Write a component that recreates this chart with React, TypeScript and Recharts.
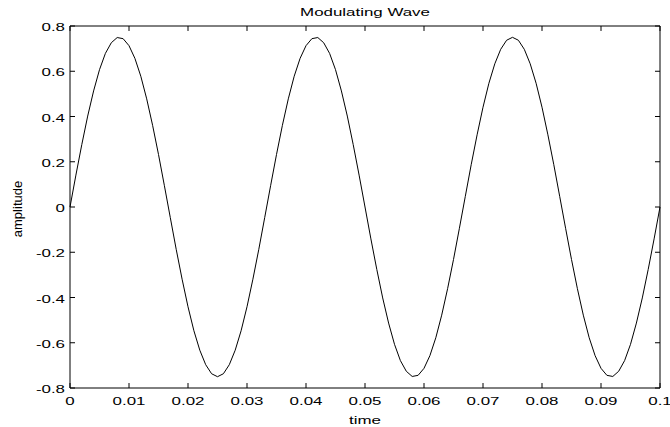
import { LineChart, Line, XAxis, YAxis, ReferenceLine } from 'recharts'

const SAMPLE_STEP = 0.001
const amplitude = [
  0, 0.141, 0.276, 0.402, 0.513, 0.607, 0.679, 0.726, 0.749, 0.744,
  0.713, 0.657, 0.578, 0.478, 0.361, 0.232, 0.094, -0.047, -0.187, -0.319,
  -0.441, -0.547, -0.633, -0.697, -0.737, -0.75, -0.737, -0.697, -0.633, -0.547,
  -0.441, -0.319, -0.187, -0.047, 0.094, 0.232, 0.361, 0.478, 0.578, 0.657,
  0.713, 0.744, 0.749, 0.726, 0.679, 0.607, 0.513, 0.402, 0.276, 0.141,
  0, -0.141, -0.276, -0.402, -0.513, -0.607, -0.679, -0.726, -0.749, -0.744,
  -0.713, -0.657, -0.578, -0.478, -0.361, -0.232, -0.094, 0.047, 0.187, 0.319,
  0.441, 0.547, 0.633, 0.697, 0.737, 0.75, 0.737, 0.697, 0.633, 0.547,
  0.441, 0.319, 0.187, 0.047, -0.094, -0.232, -0.361, -0.478, -0.578, -0.657,
  -0.713, -0.744, -0.749, -0.726, -0.679, -0.607, -0.513, -0.402, -0.276, -0.141,
  0,
]

const xTicks = [0, 0.01, 0.02, 0.03, 0.04, 0.05, 0.06, 0.07, 0.08, 0.09, 0.1]
const xTickLabels = ['0', '0.01', '0.02', '0.03', '0.04', '0.05', '0.06', '0.07', '0.08', '0.09', '0.1']
const yTicks = [-0.8, -0.6, -0.4, -0.2, 0, 0.2, 0.4, 0.6, 0.8]
const yTickLabels = ['-0.8', '-0.6', '-0.4', '-0.2', '0', '0.2', '0.4', '0.6', '0.8']

const data = amplitude.map((a, i) => ({ t: i * SAMPLE_STEP, a }))

const X_MIN = 0
const X_MAX = 0.1
const Y_MIN = -0.8
const Y_MAX = 0.8
// inward tick marks, ~5px long, in data units
const X_TICK_LEN = 0.022
const Y_TICK_LEN = 0.00085

const FONT = '"Liberation Sans", Arial, Helvetica, sans-serif'
const FS = 11.5
const SX = 1.47 // the reference text is drawn wide
const frame = { stroke: '#000', strokeWidth: 1 }

function BottomTick(props: any) {
  const { x, y, index } = props
  return (
    <text
      transform={`translate(${x} ${y + 17}) scale(${SX} 1)`}
      textAnchor="middle"
      fontSize={FS}
      fontFamily={FONT}
      fill="#000"
    >
      {xTickLabels[index]}
    </text>
  )
}

function LeftTick(props: any) {
  const { x, y, index } = props
  return (
    <text
      transform={`translate(${x - 5} ${y + 5}) scale(${SX} 1)`}
      textAnchor="end"
      fontSize={FS}
      fontFamily={FONT}
      fill="#000"
    >
      {yTickLabels[index]}
    </text>
  )
}

export default function App() {
  return (
    <div style={{ position: 'absolute', left: 0, top: 0, width: 670, height: 427, background: '#fff' }}>
      <LineChart width={670} height={427} data={data} margin={{ top: 26, right: 10, bottom: 0, left: 0 }}>
        <XAxis
          dataKey="t"
          type="number"
          domain={[X_MIN, X_MAX]}
          ticks={xTicks}
          interval={0}
          height={39}
          tickSize={0}
          tickMargin={0}
          axisLine={frame}
          tickLine={false}
          tick={<BottomTick />}
        />
        <YAxis
          type="number"
          domain={[Y_MIN, Y_MAX]}
          ticks={yTicks}
          interval={0}
          width={70}
          tickSize={0}
          tickMargin={0}
          axisLine={frame}
          tickLine={false}
          tick={<LeftTick />}
        />
        <ReferenceLine y={Y_MAX} {...frame} />
        <ReferenceLine x={X_MAX} {...frame} />
        {xTicks.map((t) => (
          <ReferenceLine
            key={`xb${t}`}
            segment={[{ x: t, y: Y_MIN }, { x: t, y: Y_MIN + X_TICK_LEN }]}
            {...frame}
          />
        ))}
        {xTicks.map((t) => (
          <ReferenceLine
            key={`xt${t}`}
            segment={[{ x: t, y: Y_MAX }, { x: t, y: Y_MAX - X_TICK_LEN }]}
            {...frame}
          />
        ))}
        {yTicks.map((v) => (
          <ReferenceLine
            key={`yl${v}`}
            segment={[{ x: X_MIN, y: v }, { x: X_MIN + Y_TICK_LEN, y: v }]}
            {...frame}
          />
        ))}
        {yTicks.map((v) => (
          <ReferenceLine
            key={`yr${v}`}
            segment={[{ x: X_MAX, y: v }, { x: X_MAX - Y_TICK_LEN, y: v }]}
            {...frame}
          />
        ))}
        <Line
          dataKey="a"
          type="linear"
          stroke="#000"
          strokeWidth={1}
          dot={false}
          isAnimationActive={false}
        />
      </LineChart>
      <svg width={670} height={427} style={{ position: 'absolute', left: 0, top: 0, pointerEvents: 'none' }}>
        <text
          transform={`translate(365 16) scale(${SX} 1)`}
          textAnchor="middle"
          fontSize={FS}
          fontFamily={FONT}
          fill="#000"
        >
          Modulating Wave
        </text>
        <text
          transform={`translate(365 424) scale(${SX} 1)`}
          textAnchor="middle"
          fontSize={FS}
          fontFamily={FONT}
          fill="#000"
        >
          time
        </text>
        <text
          transform="translate(21.5 209) rotate(-90)"
          textAnchor="middle"
          fontSize={13}
          fontFamily={FONT}
          fill="#000"
        >
          amplitude
        </text>
      </svg>
    </div>
  )
}
